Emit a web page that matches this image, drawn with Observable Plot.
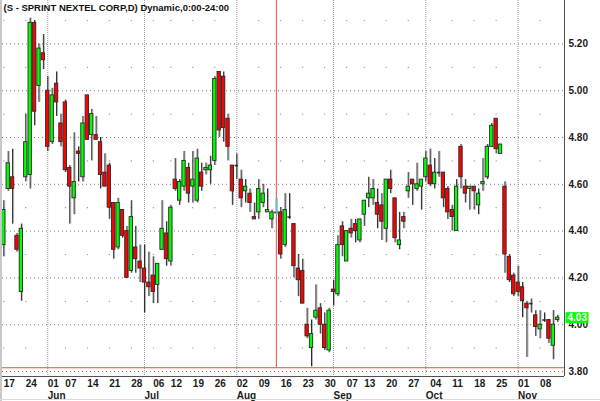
<!DOCTYPE html>
<html><head><meta charset="utf-8">
<script src="https://cdn.jsdelivr.net/npm/d3@7"></script>
<script src="https://cdn.jsdelivr.net/npm/@observablehq/plot@0.6"></script>
<style>
html,body{margin:0;padding:0;background:#fff;}
#wrap{position:relative;width:600px;height:401px;overflow:hidden;background:#fff;}
#wrap svg{display:block;}
.edgeL{position:absolute;left:0;top:0;width:2px;height:401px;background:#c8c8c8;}
.edgeB{position:absolute;left:0;top:399px;width:600px;height:1px;background:#dcdcdc;}
</style></head><body><div id="wrap"></div>
<script>
const title = "(S - SPRINT NEXTEL CORP,D) Dynamic,0:00-24:00";
const startDate = "2010-05-17", endDate = "2010-11-12";
const holidays = ["2010-05-31","2010-07-05","2010-09-06"];

const open = [4.34,4.58,4.63,4.38,4.14,4.63,4.64,5.29,5.02,5.16,
5.00,4.78,5.03,4.86,4.95,4.67,4.54,4.74,4.63,4.98,
4.81,4.81,4.78,4.65,4.68,4.52,4.33,4.49,4.40,4.23,
4.33,4.27,4.24,4.18,4.21,4.17,4.32,4.39,4.27,4.62,
4.53,4.59,4.67,4.59,4.53,4.65,4.66,4.66,4.70,5.08,
5.06,4.88,4.68,4.68,4.62,4.57,4.56,4.46,4.48,4.52,
4.48,4.45,4.48,4.48,4.34,4.46,4.43,4.24,4.23,4.00,
3.90,4.03,4.07,4.00,3.89,4.15,4.13,4.42,4.27,4.41,
4.43,4.36,4.47,4.54,4.54,4.52,4.51,4.41,4.62,4.54,
4.34,4.46,4.57,4.62,4.58,4.59,4.63,4.68,4.60,4.65,
4.65,4.58,4.49,4.40,4.76,4.59,4.58,4.59,4.51,4.60,
4.63,4.76,4.88,4.73,4.59,4.29,4.21,4.18,4.16,4.09,
4.09,4.04,3.98,4.02,4.02,3.91,4.02];
const high = [4.53,4.74,4.75,4.39,4.43,4.90,5.31,5.30,5.20,5.24,
5.06,5.01,5.08,4.90,4.96,4.68,4.82,4.76,4.89,4.98,
4.92,4.89,4.80,4.73,4.69,4.52,4.54,4.49,4.42,4.53,
4.42,4.34,4.34,4.31,4.29,4.26,4.53,4.44,4.51,4.71,
4.62,4.74,4.69,4.74,4.75,4.69,4.69,4.72,5.06,5.08,
5.08,4.90,4.68,4.73,4.66,4.62,4.58,4.52,4.62,4.60,
4.58,4.49,4.54,4.50,4.56,4.56,4.43,4.30,4.28,4.07,
4.02,4.17,4.09,4.05,4.07,4.19,4.38,4.44,4.40,4.45,
4.45,4.45,4.53,4.63,4.62,4.58,4.56,4.62,4.66,4.54,
4.48,4.48,4.65,4.62,4.69,4.62,4.74,4.75,4.71,4.74,
4.65,4.59,4.51,4.62,4.77,4.62,4.59,4.59,4.58,4.71,
4.77,4.86,4.88,4.77,4.61,4.30,4.22,4.25,4.18,4.10,
4.11,4.06,4.06,4.05,4.02,4.06,4.04];
const low = [4.29,4.57,4.43,4.31,4.10,4.61,4.58,4.85,4.95,5.09,
4.74,4.77,4.89,4.76,4.65,4.43,4.47,4.61,4.61,4.79,
4.70,4.79,4.58,4.59,4.45,4.28,4.32,4.37,4.20,4.22,
4.22,4.18,4.05,4.12,4.09,4.09,4.32,4.25,4.25,4.57,
4.51,4.57,4.52,4.52,4.52,4.57,4.64,4.60,4.68,4.80,
4.78,4.70,4.51,4.62,4.50,4.52,4.48,4.45,4.45,4.50,
4.48,4.41,4.47,4.28,4.33,4.45,4.20,4.12,4.09,3.94,
3.82,4.02,3.96,3.89,3.88,4.08,4.12,4.29,4.27,4.37,
4.35,4.35,4.42,4.50,4.51,4.41,4.36,4.35,4.56,4.35,
4.32,4.41,4.54,4.51,4.57,4.49,4.61,4.59,4.58,4.63,
4.50,4.45,4.40,4.40,4.58,4.52,4.49,4.49,4.47,4.57,
4.62,4.76,4.73,4.73,4.22,4.18,4.12,4.12,4.03,3.86,
4.05,3.95,3.94,4.01,3.92,3.85,4.01];
const close = [4.49,4.69,4.58,4.32,4.41,4.78,5.29,4.91,5.18,5.13,
4.76,4.98,4.95,4.78,4.66,4.59,4.61,4.73,4.86,4.79,
4.90,4.79,4.64,4.59,4.50,4.32,4.52,4.38,4.20,4.46,
4.28,4.24,4.18,4.16,4.14,4.26,4.41,4.28,4.50,4.58,
4.61,4.70,4.56,4.62,4.71,4.59,4.67,4.68,5.05,4.83,
4.84,4.76,4.57,4.68,4.54,4.59,4.52,4.45,4.58,4.56,
4.49,4.48,4.48,4.30,4.49,4.46,4.25,4.19,4.09,3.95,
3.96,4.06,4.00,3.90,4.06,4.14,4.34,4.34,4.40,4.39,
4.40,4.45,4.53,4.56,4.58,4.47,4.44,4.62,4.58,4.37,
4.36,4.44,4.59,4.60,4.60,4.62,4.71,4.60,4.65,4.65,
4.54,4.48,4.46,4.59,4.63,4.56,4.59,4.57,4.56,4.61,
4.76,4.85,4.75,4.77,4.30,4.19,4.13,4.14,4.10,4.07,
4.09,3.99,4.00,4.02,3.94,4.00,4.03];

const yTicks = [3.8,4.0,4.2,4.4,4.6,4.8,5.0,5.2];
const minorLevels = [3.9,4.1,4.3,4.5,4.7,4.9,5.1,5.3];
const lastPrice = 4.03;
const cursorIndex = 62;
const cursorPrice = 3.816;

// layout
const yDomain = [3.7786, 5.3855];
const xDomain = [-0.296, 127.55];
const bodyHalf = 0.38;

const fmt = d3.utcFormat("%Y-%m-%d");
const dates = d3.utcDays(new Date(startDate + "T00:00Z"), new Date(endDate + "T12:00Z"))
  .filter(d => d.getUTCDay() > 0 && d.getUTCDay() < 6 && !holidays.includes(fmt(d)));
const bars = dates.map((d, i) => ({i, date: d, o: open[i], h: high[i], l: low[i], c: close[i]}));
const weekStarts = bars.filter((b, i) => i === 0 || b.date.getUTCDay() < bars[i - 1].date.getUTCDay());
const monthStarts = bars.filter((b, i) => i > 0 && b.date.getUTCMonth() !== bars[i - 1].date.getUTCMonth());
const monthIdx = monthStarts.map(m => m.i);
const isDoji = b => Math.abs(b.c - b.o) < 0.005;
const bodies = bars.filter(b => !isDoji(b));
const dojis = bars.filter(isDoji);
const minorDots = weekStarts.filter(w => !monthIdx.includes(w.i)).flatMap(w => minorLevels.map(v => ({i: w.i, v})));
const priceTag = {draw(ctx) { ctx.rect(-11.5, -5.5, 23, 11); }};

const chart = Plot.plot({
  width: 600, height: 401,
  marginLeft: 2, marginRight: 36, marginTop: 0, marginBottom: 25,
  style: {fontFamily: "'Liberation Sans', Arial, sans-serif", fontSize: "10px", background: "#fff", color: "#1a1a1a", overflow: "visible"},
  x: {domain: xDomain, axis: null},
  y: {domain: yDomain, axis: null},
  color: {type: "identity"},
  marks: [
    Plot.ruleY(yTicks, {stroke: "#7a7a7a", strokeDasharray: "1,3"}),
    Plot.dot(minorDots, {x: "i", y: "v", r: 0.6, fill: "#7a7a7a", stroke: null}),
    Plot.ruleX(monthStarts, {x: "i", stroke: "#9a9a9a", strokeDasharray: "1,1"}),
    Plot.ruleX(bars, {x: "i", y1: "l", y2: "h", stroke: "#b4b4b4", dx: 1}),
    Plot.ruleX(bars, {x: "i", y1: "l", y2: "h", stroke: "#2a2a2a"}),
    Plot.rect(bodies, {x1: d => d.i - bodyHalf, x2: d => d.i + bodyHalf, y1: "o", y2: "c",
      fill: d => d.c > d.o ? "#00ff00" : "#ff0000", stroke: "#2a2a2a", strokeWidth: 0.9}),
    Plot.ruleY(dojis, {y: "c", x1: d => d.i - bodyHalf, x2: d => d.i + bodyHalf, stroke: "#2a2a2a", strokeWidth: 1.6}),
    Plot.ruleY([cursorPrice], {stroke: "#ea4a45"}),
    Plot.ruleX([cursorIndex], {y1: cursorPrice, y2: yDomain[1], stroke: "#ea4a45"}),
    Plot.ruleX(bars.filter(b => b.i === cursorIndex), {x: "i", y1: "l", y2: "h", stroke: "#22e5ff"}),
    Plot.ruleY([yDomain[0]], {stroke: "#505050"}),
    Plot.ruleX([xDomain[1]], {stroke: "#505050"}),
    Plot.axisY({ticks: yTicks, anchor: "right", tickSize: 0, tickPadding: 4, tickFormat: d3.format(".2f"), fontWeight: "bold", label: null}),
    Plot.axisX({ticks: weekStarts.map(w => w.i), tickFormat: i => d3.utcFormat("%d")(dates[i]), anchor: "bottom", tickSize: 0, tickPadding: 3, textAnchor: "start", fontWeight: "bold", label: null}),
    Plot.axisX({ticks: monthIdx, tickFormat: i => d3.utcFormat("%b")(dates[i]), anchor: "bottom", tickSize: 0, tickPadding: 15, textAnchor: "start", fontWeight: "bold", label: null}),
    Plot.dot([lastPrice], {y: d => d, frameAnchor: "right", dx: 12.5, symbol: priceTag, fill: "#00ff00", stroke: null}),
    Plot.text([lastPrice], {y: d => d, frameAnchor: "right", dx: 3, textAnchor: "start", text: d => d.toFixed(2), fill: "white", fontWeight: "bold"}),
    Plot.text([title], {frameAnchor: "top-left", dx: 1, dy: 4, lineAnchor: "top", textAnchor: "start", fontWeight: "bold", fontSize: 9.5, fill: "#111"})
  ]
});
const wrap = document.getElementById("wrap");
wrap.appendChild(chart);
const l = document.createElement("div"); l.className = "edgeL"; wrap.appendChild(l);
const b = document.createElement("div"); b.className = "edgeB"; wrap.appendChild(b);
</script></body></html>
